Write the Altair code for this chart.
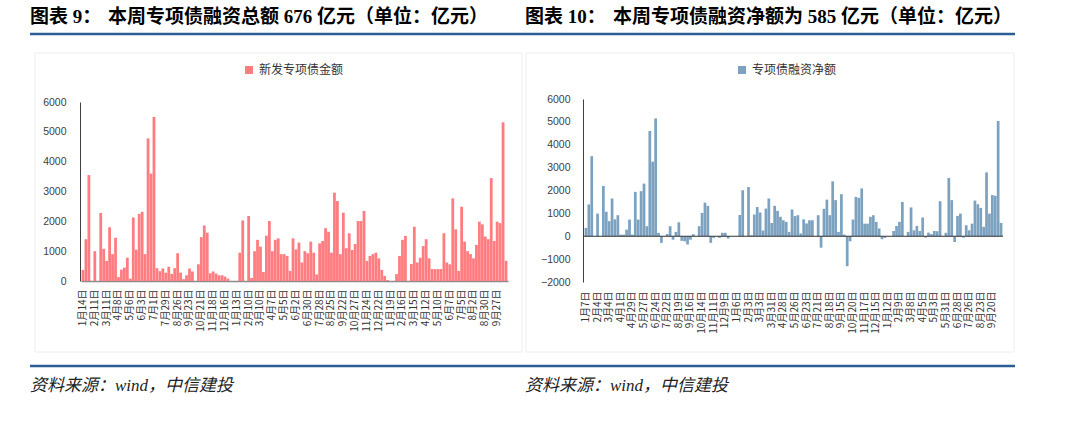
import json
import altair as alt
import pandas as pd

# ---------------- data ----------------
weeks = list(range(144))

gross = [
    370, 1400, 3550, 0, 1000, 0, 2280, 1080, 670, 1800,
    900, 1450, 130, 380, 450, 780, 80, 2130, 1050, 2250,
    2320, 900, 4780, 3600, 5500, 430, 330, 420, 280, 480,
    240, 430, 930, 280, 60, 190, 420, 320, 0, 560,
    1470, 1860, 1620, 260, 320, 250, 190, 190, 150, 80,
    0, 0, 0, 950, 2030, 0, 2180, 100, 1000, 1380,
    1150, 300, 1520, 2010, 1000, 1380, 1430, 900, 900, 840,
    340, 1430, 1060, 1290, 620, 1000, 930, 1320, 950, 220,
    1260, 1340, 1770, 1650, 950, 2960, 2680, 900, 2290, 1100,
    1600, 1040, 1240, 2010, 2010, 2350, 670, 840, 900, 950,
    760, 370, 170, 30, 0, 0, 230, 840, 1380, 1510,
    0, 570, 1820, 620, 780, 1170, 1400, 760, 400, 400,
    400, 400, 1600, 620, 560, 2770, 1730, 340, 2490, 1320,
    1000, 900, 760, 1210, 1990, 1900, 1490, 1400, 3450, 1340,
    1990, 1940, 5320, 676,
]

net = [
    365, 1390, 3500, 0, 990, 0, 2200, 1070, 660, 1650,
    740, 920, 70, 70, 290, 730, 70, 1940, 730, 1970,
    2300, 440, 4600, 3260, 5150, 150, -290, 0, 100, 440,
    -150, 190, 610, -200, -220, -360, -150, 90, 0, 440,
    1020, 1470, 1330, -290, -70, 0, -70, 150, 150, -100,
    0, 0, 0, 930, 2010, 0, 2150, 40, 950, 1280,
    1040, 250, 1210, 1650, 580, 1330, 1110, 850, 700, 630,
    190, 1170, 880, 920, 120, 740, 560, 700, 700, 0,
    920, -500, 1200, 1600, 920, 2400, 1580, 190, 1840, 70,
    -1310, -220, 730, 1720, 1680, 2090, 550, 550, 850, 920,
    630, 340, -130, -70, 0, 0, 230, 450, 630, 1500,
    0, 190, 1260, 260, 450, 230, 820, -60, 160, 90,
    230, 220, 1530, 0, 150, 2550, 1580, -250, 890, 990,
    -60, 480, 260, 550, 1560, 1400, 1240, 410, 2790, 990,
    1800, 1770, 5040, 585,
]

left_ticks = ["1月14日", "2月11日", "3月11日", "4月8日", "5月6日", "6月3日", "7月1日",
              "7月29日", "8月26日", "9月23日", "10月21日", "11月18日", "12月16日",
              "1月13日", "2月10日", "3月10日", "4月7日", "5月5日", "6月2日", "6月30日",
              "7月28日", "8月25日", "9月22日", "10月27日", "11月24日", "12月22日",
              "1月19日", "2月16日", "3月15日", "4月12日", "5月10日", "6月7日", "7月5日",
              "8月2日", "8月30日", "9月27日"]

right_ticks = ["1月7日", "2月4日", "3月4日", "4月1日", "4月29日", "5月27日", "6月24日",
               "7月22日", "8月19日", "9月16日", "10月14日", "11月11日", "12月9日",
               "1月6日", "2月3日", "3月3日", "3月31日", "4月28日", "5月26日", "6月23日",
               "7月21日", "8月18日", "9月15日", "10月20日", "11月17日", "12月15日",
               "1月12日", "2月9日", "3月8日", "4月5日", "5月3日", "5月31日", "6月28日",
               "7月26日", "8月23日", "9月20日"]

left_series = "新发专项债金额"
right_series = "专项债融资净额"
left_title_a = "图表 9："
left_title_b = "本周专项债融资总额 676 亿元（单位：亿元）"
right_title_a = "图表 10："
right_title_b = "本周专项债融资净额为 585 亿元（单位：亿元）"
source_text = "资料来源：wind，中信建投"

left_yticks = [0, 1000, 2000, 3000, 4000, 5000, 6000]
right_yticks = [-2000, -1000, 0, 1000, 2000, 3000, 4000, 5000, 6000]

# ---------------- layout constants ----------------
W, H = 1080, 421
CJK = "'Noto Sans CJK SC'"
MIX = "'Liberation Serif', 'Noto Sans CJK SC'"
SANS = "'Liberation Sans', 'Noto Sans CJK SC'"
PINK = "#FF7C80"
BLUE = "#7DA2BF"
LINE_BLUE = "#2B5F93"

dfL = pd.DataFrame({"i": weeks, "v": gross, "s": [left_series] * len(weeks)})
dfR = pd.DataFrame({"i": weeks, "v": net, "s": [right_series] * len(weeks)})
one = pd.DataFrame({"z": [0]})
tick_idx = weeks[::4]


def lab_expr(labels):
    return json.dumps(labels, ensure_ascii=False) + "[datum.value / 4]"


def x_axis(labels, y_pix, domain, pad):
    return alt.Axis(orient="bottom", offset=-(H - y_pix), values=tick_idx,
                    labelExpr=lab_expr(labels), labelAngle=270, labelFontSize=10,
                    labelFont=CJK, labelColor="#333333", labelPadding=pad,
                    ticks=False, domain=domain, domainColor="#8c8c8c", domainWidth=1.5,
                    title=None, grid=False, labelOverlap=False)


def y_axis(values, x_pix, pad):
    return alt.Axis(orient="left", offset=-x_pix, values=values, ticks=False,
                    format="d", labelPadding=pad, labelFontSize=10.5, labelFont=SANS,
                    labelColor="#404040", domainColor="#404040", domainWidth=1,
                    title=None, grid=False)


def legend(x, y):
    return alt.Legend(orient="none", legendX=x, legendY=y, title=None,
                      symbolType="square", symbolSize=64, symbolStrokeWidth=0,
                      labelFontSize=12, labelFont=CJK, labelColor="#333333")


yL = alt.Scale(domain=[0, 6000], range=[281, 102], nice=False)
yR = alt.Scale(domain=[-2000, 6000], range=[282, 99], nice=False)

left_bars = alt.Chart(dfL).mark_bar().encode(
    x=alt.X("i:O", scale=alt.Scale(range=[81, 508], paddingInner=0.06, paddingOuter=0.2),
            axis=x_axis(left_ticks, 281, True, 8)),
    y=alt.Y("v:Q", scale=yL, axis=y_axis(left_yticks, 80, 14)),
    color=alt.Color("s:N", scale=alt.Scale(range=[PINK]), legend=legend(243, 64)),
)

right_bars = alt.Chart(dfR).mark_bar().encode(
    x=alt.X("i:O", scale=alt.Scale(range=[584, 1003], paddingInner=0.06, paddingOuter=0.2),
            axis=x_axis(right_ticks, 282, False, 9)),
    y=alt.Y("v:Q", scale=yR, axis=y_axis(right_yticks, 583, 13)),
    color=alt.Color("s:N", scale=alt.Scale(range=[BLUE]), legend=legend(736, 64)),
)

zero_line = alt.Chart(one).mark_rule(color="#333333", strokeWidth=1.2).encode(
    y=alt.Y("z:Q", scale=yR, axis=None),
    x=alt.value(583), x2=alt.value(1003),
)


def text(t, x, y, size, font, weight="normal", style="normal", color="#000000"):
    return alt.Chart(pd.DataFrame({"t": [t]})).mark_text(
        align="left", baseline="middle", fontSize=size, font=font,
        fontWeight=weight, fontStyle=style, color=color,
    ).encode(text="t:N", x=alt.value(x), y=alt.value(y))


def hline(x1, x2, y, color, width):
    return alt.Chart(one).mark_rule(color=color, strokeWidth=width).encode(
        x=alt.value(x1), x2=alt.value(x2), y=alt.value(y))


def box(x1, x2, y1, y2):
    return alt.Chart(one).mark_rect(fillOpacity=0, stroke="#eeeeee", strokeWidth=1).encode(
        x=alt.value(x1), x2=alt.value(x2), y=alt.value(y1), y2=alt.value(y2))


layers = [
    box(35, 522, 53, 352),
    box(526, 1014, 53, 352),
    text(left_title_a, 30, 17, 19, MIX, "bold"),
    text(left_title_b, 108, 17, 19, MIX, "bold"),
    text(right_title_a, 525, 17, 19, MIX, "bold"),
    text(right_title_b, 613, 17, 19, MIX, "bold"),
    hline(30, 1015, 34, LINE_BLUE, 2.5),
    hline(30, 1015, 366, LINE_BLUE, 2.5),
    text(source_text, 30, 386, 17, MIX, "normal", "italic", "#222222"),
    text(source_text, 525, 386, 17, MIX, "normal", "italic", "#222222"),
    left_bars,
    right_bars,
    zero_line,
]

chart = alt.layer(*layers).resolve_scale(
    x="independent", y="independent", color="independent"
).properties(
    width=W, height=H, autosize=alt.AutoSizeParams(type="none"), padding=0,
    background="#ffffff",
).configure_view(stroke=None)

chart.save("out.html", embed_options={"renderer": "svg", "actions": False})
